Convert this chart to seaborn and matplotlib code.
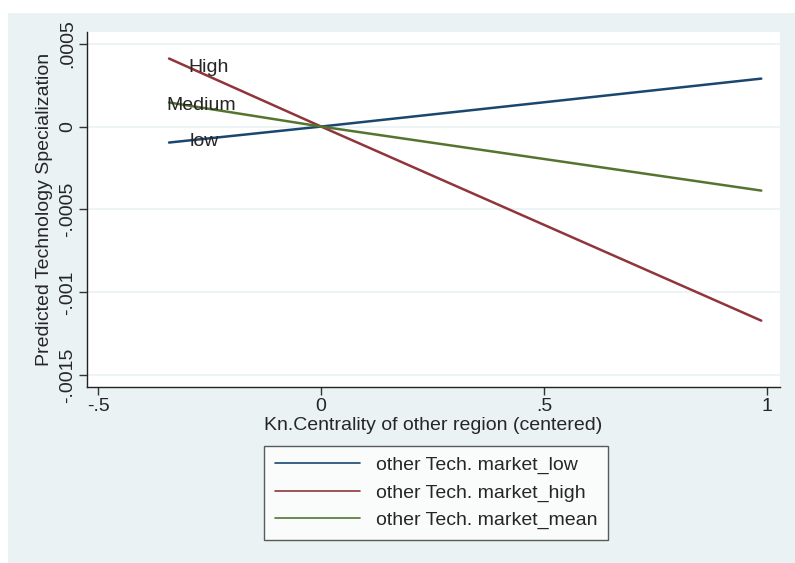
import numpy as np
import pandas as pd
import seaborn as sns
import matplotlib.pyplot as plt
from matplotlib.patches import Rectangle

# predicted values at the end points (and the centre) of the centrality range
centrality = [-0.341, 0.0, 0.987]
pred_low = [-0.0000964, 0.0, 0.000289]
pred_high = [0.00041, 0.0, -0.00117]
pred_mean = [0.000145, 0.0, -0.000386]

series_names = ['other Tech. market_low', 'other Tech. market_high', 'other Tech. market_mean']
series_colors = ['#1a476f', '#90353b', '#55752f']

line_labels = ['High', 'Medium', 'low']
label_x = [-0.298, -0.348, -0.294]
label_y = [0.000355, 0.000128, -0.0000880]

xticks = [-0.5, 0, 0.5, 1]
xtick_labels = ['-.5', '0', '.5', '1']
yticks = [0.0005, 0, -0.0005, -0.001, -0.0015]
ytick_labels = ['.0005', '0', '-.0005', '-.001', '-.0015']

df = pd.DataFrame({
    'x': centrality * 3,
    'y': pred_low + pred_high + pred_mean,
    'series': np.repeat(series_names, len(centrality)),
})

sns.set_style('white')
plt.rcParams['font.family'] = ['Liberation Sans', 'DejaVu Sans']

bg = '#eaf2f3'
fs = 14
fig = plt.figure(figsize=(7.95, 5.63), dpi=100)
fig.patch.set_facecolor('white')
fig.patches.append(Rectangle((8 / 795, 0), 1, (563 - 13) / 563, transform=fig.transFigure,
                             facecolor=bg, edgecolor='none', zorder=-10))

ax = fig.add_axes([87 / 795, (563 - 387) / 563, (780 - 87) / 795, (387 - 32) / 563])
ax.set_facecolor('white')

for yv in yticks:
    ax.axhline(yv, color=bg, lw=1.2, zorder=0)

sns.lineplot(data=df, x='x', y='y', hue='series', palette=series_colors,
             hue_order=series_names, lw=1.8, ax=ax, legend=False)

for lab, lx, ly in zip(line_labels, label_x, label_y):
    ax.text(lx, ly, lab, fontsize=fs, va='center', ha='left')

ax.set_xlim(-0.525, 1.029)
ax.set_ylim(-0.00157, 0.00057)
ax.set_xticks(xticks)
ax.set_xticklabels(xtick_labels, fontsize=fs)
ax.set_yticks(yticks)
ax.set_yticklabels(ytick_labels, fontsize=fs, rotation=90, va='center')
ax.tick_params(axis='both', direction='out', length=6, width=1, color='#333333', pad=2)
ax.tick_params(left=True, bottom=True)

for s in ['top', 'right']:
    ax.spines[s].set_visible(False)
for s in ['left', 'bottom']:
    ax.spines[s].set_color('#222222')
    ax.spines[s].set_linewidth(1)

ax.set_xlabel('Kn.Centrality of other region (centered)', fontsize=fs, labelpad=1)
ax.set_ylabel('Predicted Technology Specialization', fontsize=fs, labelpad=4)

handles = [plt.Line2D([], [], color=c, lw=1.2) for c in series_colors]
leg = fig.legend(handles, series_names, loc='center', bbox_to_anchor=(436 / 795, (563 - 493) / 563),
                 fontsize=fs, frameon=True, fancybox=False, handlelength=4.4, handletextpad=0.8,
                 borderpad=0.55, labelspacing=0.5, borderaxespad=0)
leg.get_frame().set_edgecolor('#333333')
leg.get_frame().set_facecolor('white')
leg.get_frame().set_linewidth(1)

fig.savefig('out.png', dpi=100)
